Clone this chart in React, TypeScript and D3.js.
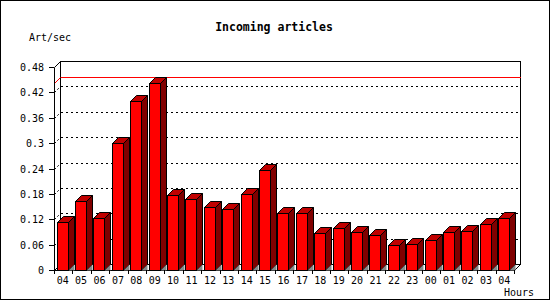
import React from "react";
import * as d3 from "d3";

const hours = ["04","05","06","07","08","09","10","11","12","13","14","15","16","17","18","19","20","21","22","23","00","01","02","03","04"];
const values = [0.113,0.162,0.122,0.300,0.399,0.441,0.177,0.167,0.148,0.144,0.179,0.236,0.135,0.134,0.087,0.099,0.089,0.082,0.058,0.061,0.070,0.089,0.092,0.108,0.122];
const yTicks = [0, 0.06, 0.12, 0.18, 0.24, 0.3, 0.36, 0.42, 0.48];
const tickLabels = ["0", "0.06", "0.12", "0.18", "0.24", "0.3", "0.36", "0.42", "0.48"];

const W = 550, H = 300;
const X0 = 54, X1 = 514, Y0 = 270, YTOP = 67;
const DX = 6, DY = 6;
const FONT = "'DejaVu Sans Mono', monospace";

export default function App() {
  const keys = hours.map((h, i) => i + ":" + h);
  const x = d3.scaleBand<string>().domain(keys).range([X0, X1]).padding(0);
  const y = d3.scaleLinear().domain([0, 0.48]).range([Y0, YTOP]);
  const bw = x.bandwidth();
  const fw = Math.round(bw * 0.6);
  const off = bw * 0.145;
  const maxV = d3.max(values) as number;
  const line = d3.line();
  const gy = (t: number) => Math.round(y(t)) + 0.5;

  return (
    <svg width={W} height={H} style={{ position: "absolute", left: 0, top: 0, background: "#fff" }}>
      <rect x={0.5} y={0.5} width={W - 1} height={H - 1} fill="#fff" stroke="#000" />
      <text x={274} y={31} textAnchor="middle" fontFamily={FONT} fontWeight="bold" fontSize={11.5}>Incoming articles</text>
      <text x={29} y={41} fontFamily={FONT} fontSize={10}>Art/sec</text>

      {/* back plane */}
      <rect x={X0 + DX + 0.5} y={gy(0.48) - DY} width={X1 - X0} height={gy(0) - gy(0.48)} fill="#fff" stroke="#000" shapeRendering="crispEdges" />

      {/* grid */}
      {yTicks.filter(t => t > 0 && t < 0.48).map((t, i) => (
        <g key={"g" + i}>
          <path d={line([[X0 + 0.5, gy(t)], [X0 + DX + 0.5, gy(t) - DY]]) as string} fill="none" stroke="#000" strokeDasharray="2,2" />
          <path d={line([[X0 + DX + 0.5, gy(t) - DY], [X1 + DX + 0.5, gy(t) - DY]]) as string}
            fill="none" stroke="#000" strokeDasharray="2,3" shapeRendering="crispEdges" />
        </g>
      ))}
      {/* max line */}
      <path d={line([[X0 + 0.5, gy(maxV)], [X0 + DX + 0.5, gy(maxV) - DY]]) as string} fill="none" stroke="#f00" />
      <path d={line([[X0 + DX + 0.5, gy(maxV) - DY], [X1 + DX + 0.5, gy(maxV) - DY]]) as string}
        fill="none" stroke="#f00" shapeRendering="crispEdges" />

      {/* axes */}
      <path d={line([[X0 + 0.5, Y0 + 0.5], [X0 + 0.5, gy(0.48)], [X0 + DX + 0.5, gy(0.48) - DY]]) as string} fill="none" stroke="#000" />
      <path d={line([[X0 + 0.5, Y0 + 0.5], [X0 + DX + 0.5, Y0 - DY + 0.5]]) as string} fill="none" stroke="#000" />
      <path d={line([[X0 + 0.5, Y0 + 0.5], [X1 + 0.5, Y0 + 0.5], [X1 + DX + 0.5, Y0 - DY + 0.5]]) as string} fill="none" stroke="#000" />

      {yTicks.map((t, i) => (
        <g key={"yt" + i}>
          <line x1={X0 - 5} x2={X0} y1={gy(t)} y2={gy(t)} stroke="#000" shapeRendering="crispEdges" />
          <text x={44} y={Math.round(y(t)) + 4} textAnchor="end" fontFamily={FONT} fontSize={10}>{tickLabels[i]}</text>
        </g>
      ))}

      {/* bars */}
      {values.map((v, i) => {
        const xl = Math.round((x(keys[i]) as number) + off) + 0.5;
        const xr = xl + fw;
        const yt = Math.round(y(v)) + 0.5;
        const yb = Y0 + 0.5;
        const side = line([[xr, yt], [xr + DX, yt - DY], [xr + DX, yb - DY], [xr, yb]]) + "Z";
        const top = line([[xl, yt], [xl + DX, yt - DY], [xr + DX, yt - DY], [xr, yt]]) + "Z";
        const tri = line([[xr, yb], [xr + DX, yb - DY], [xr + DX, yb]]) + "Z";
        return (
          <g key={"b" + i}>
            <path d={side} fill="#800000" stroke="#000" strokeWidth={1} />
            <path d={tri} fill="#888" stroke="none" />
            <path d={top} fill="#c00000" stroke="#000" strokeWidth={1} />
            <rect x={xl} y={yt} width={fw} height={yb - yt} fill="#f00" stroke="#000" strokeWidth={1} shapeRendering="crispEdges" />
          </g>
        );
      })}

      {/* x ticks & labels */}
      {keys.map((k, i) => (
        <line key={"xt" + i} x1={Math.round(x(k) as number) + 0.5} x2={Math.round(x(k) as number) + 0.5} y1={Y0} y2={Y0 + 4} stroke="#000" shapeRendering="crispEdges" />
      ))}
      <line x1={X1 + 0.5} x2={X1 + 0.5} y1={Y0} y2={Y0 + 4} stroke="#000" shapeRendering="crispEdges" />
      {hours.map((h, i) => (
        <text key={"xl" + i} x={(x(keys[i]) as number) + bw / 2 - 0.5} y={284} textAnchor="middle" fontFamily={FONT} fontSize={10}>{h}</text>
      ))}
      <text x={504} y={296} fontFamily={FONT} fontSize={10}>Hours</text>
    </svg>
  );
}
